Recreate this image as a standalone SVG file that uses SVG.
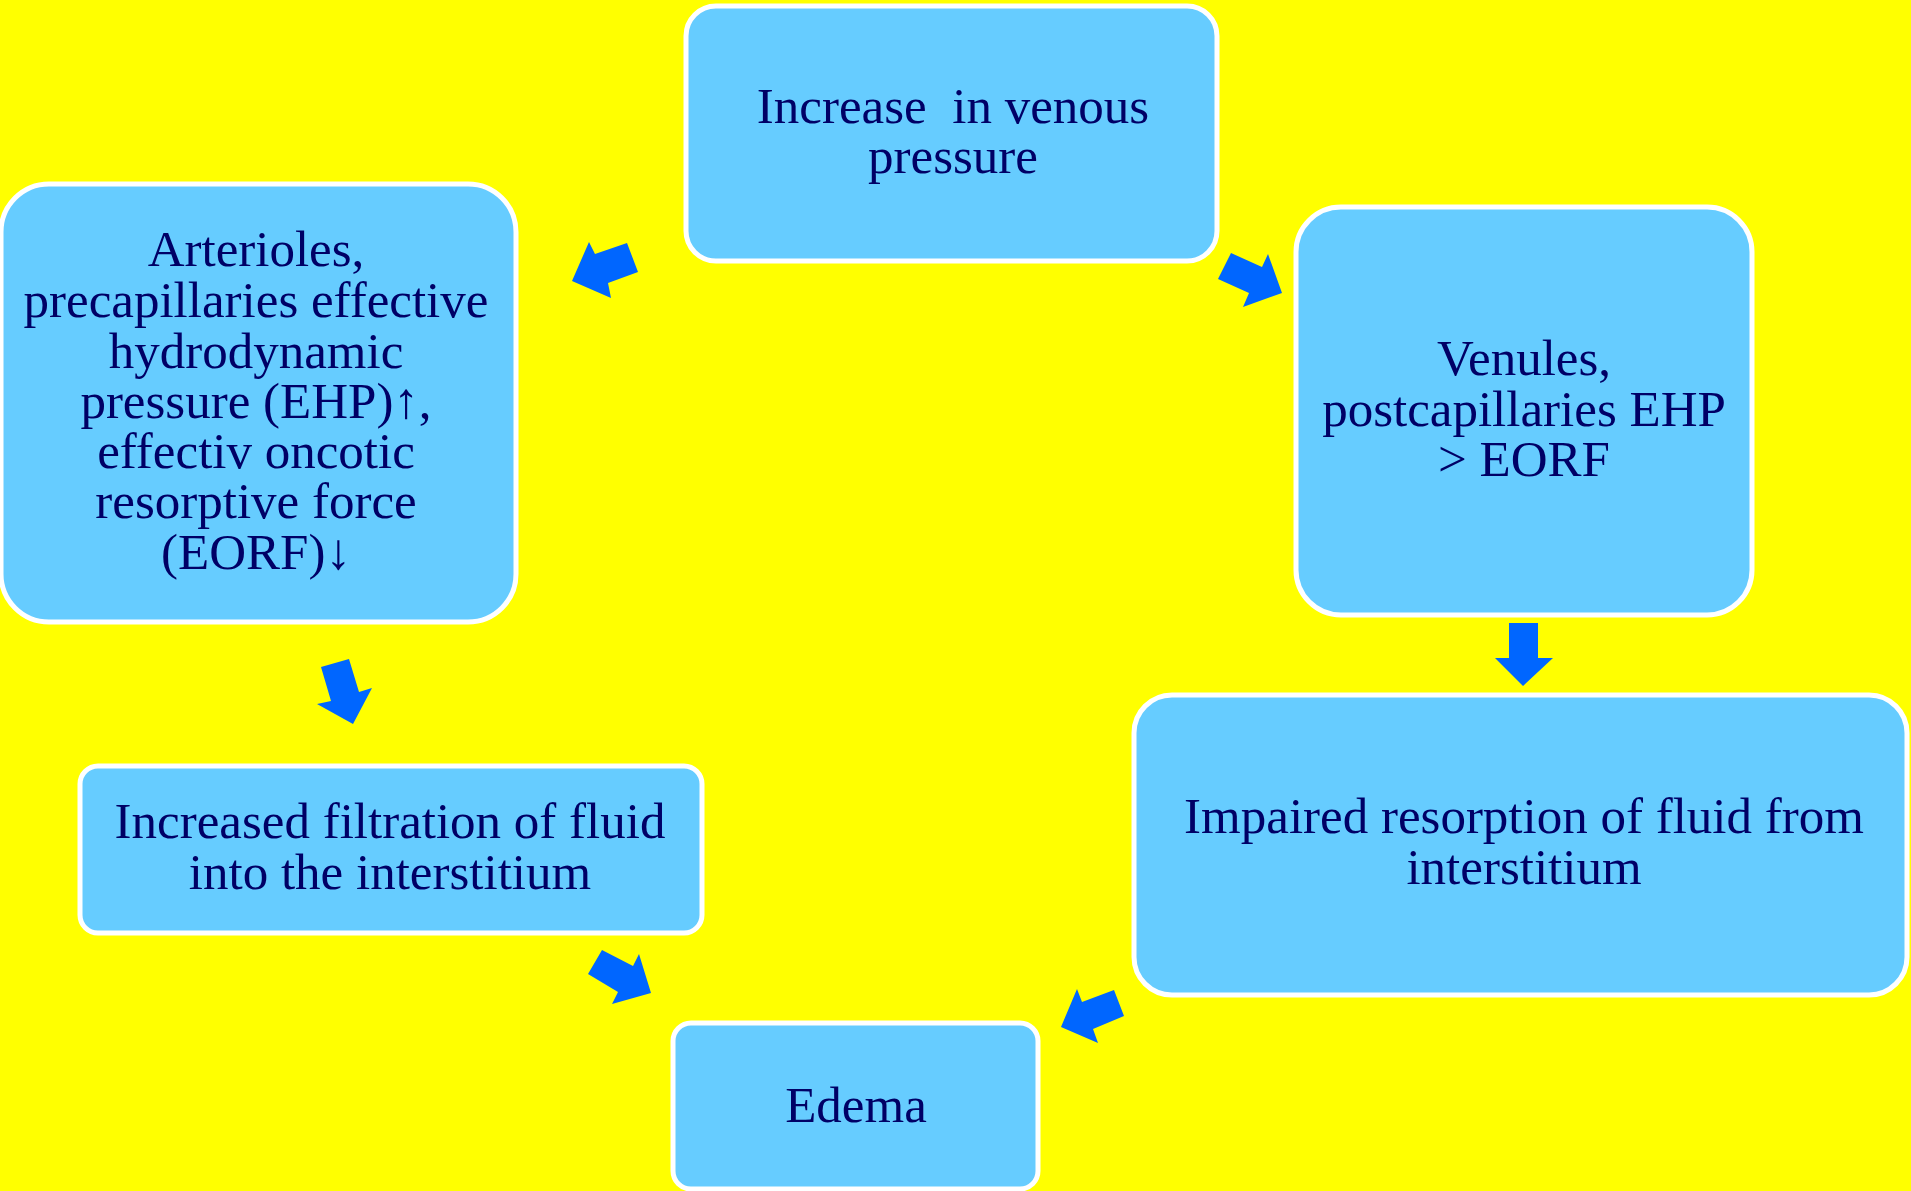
<svg xmlns="http://www.w3.org/2000/svg" width="1911" height="1191" viewBox="0 0 1911 1191">
<style>
.box{fill:#66CCFF;stroke:#FFFFFF;stroke-width:5}
.t{font-family:"Liberation Serif","Times New Roman",serif;font-size:51px;fill:#000066;text-anchor:middle}
.pre{white-space:pre}
.arr{fill:#0066FF}
</style>
<rect x="0" y="0" width="1911" height="1191" fill="#FFFF00"/>
<g id="node-venous">
<rect class="box" x="686" y="6" width="531" height="255" rx="30"/>
<text class="t pre" x="953" y="123" xml:space="preserve">Increase  in venous</text>
<text class="t" x="953" y="173">pressure</text>
</g>
<g id="node-arterioles">
<rect class="box" x="1" y="184" width="515" height="438" rx="48"/>
<text class="t" x="256" y="266">Arterioles,</text>
<text class="t" x="256" y="317">precapillaries effective</text>
<text class="t" x="256" y="368">hydrodynamic</text>
<text class="t" x="256" y="418">pressure (EHP)↑,</text>
<text class="t" x="256" y="468">effectiv oncotic</text>
<text class="t" x="256" y="518">resorptive force</text>
<text class="t" x="256" y="569">(EORF)↓</text>
</g>
<g id="node-venules">
<rect class="box" x="1296" y="207" width="456" height="408" rx="45"/>
<text class="t" x="1524" y="375">Venules,</text>
<text class="t" x="1524" y="426">postcapillaries EHP</text>
<text class="t" x="1524" y="476">&gt; EORF</text>
</g>
<g id="node-filtration">
<rect class="box" x="80" y="766" width="622" height="167" rx="18"/>
<text class="t" x="390" y="838">Increased filtration of fluid</text>
<text class="t" x="390" y="889">into the interstitium</text>
</g>
<g id="node-impaired">
<rect class="box" x="1134" y="695" width="773" height="300" rx="38"/>
<text class="t" x="1524" y="833">Impaired resorption of fluid from</text>
<text class="t" x="1524" y="884">interstitium</text>
</g>
<g id="node-edema">
<rect class="box" x="673" y="1023" width="365" height="166" rx="18"/>
<text class="t" x="856" y="1122">Edema</text>
</g>
<g id="connectors">
<polygon class="arr" points="572,281 589,242 595,254 627,243 638,272 608,283 611,298"/>
<polygon class="arr" points="1231,253 1262,267 1268,254 1282,293 1243,307 1249,293 1218,279"/>
<polygon class="arr" points="321,667 349,659 359,692 372,688 353,724 317,704 331,701"/>
<polygon class="arr" points="1509,623 1538,623 1538,658 1553,658 1523,686 1495,658 1509,658"/>
<polygon class="arr" points="602,950 633,966 639,954 651,993 612,1004 618,992 588,974"/>
<polygon class="arr" points="1061,1027 1077,989 1082,1002 1114,990 1124,1016 1093,1029 1098,1043"/>
</g>
</svg>
